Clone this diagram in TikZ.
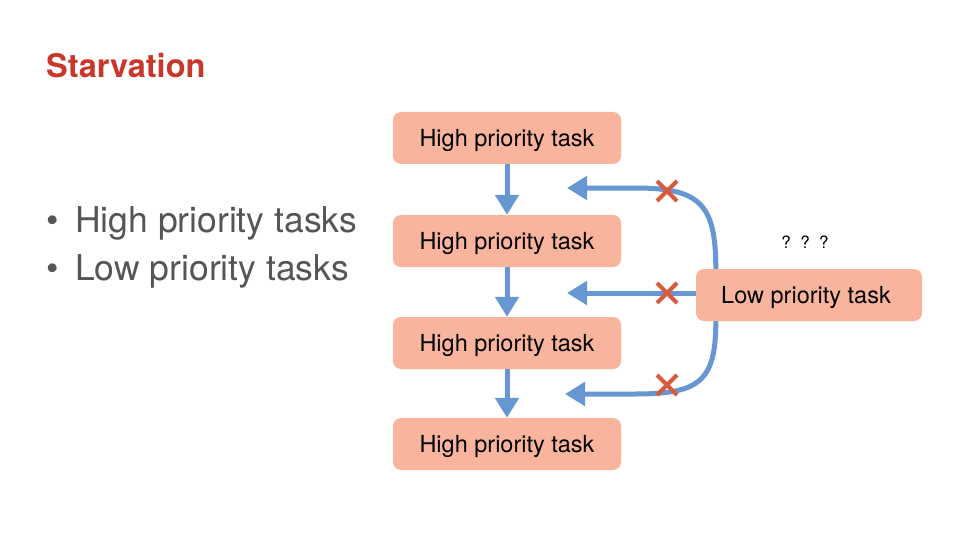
\documentclass[tikz,border=0pt]{standalone}
\usepackage{fontspec}
\setmainfont{TeX Gyre Heros}
\usetikzlibrary{arrows.meta}
\definecolor{boxfill}{RGB}{248,180,156}
\definecolor{arrowblue}{RGB}{102,151,210}
\definecolor{crossred}{RGB}{214,90,60}
\definecolor{titlered}{RGB}{201,54,42}
\definecolor{bulletgray}{RGB}{85,85,85}
\tikzset{
  taskbox/.style={fill=boxfill, rounded corners=8pt, minimum height=52pt, inner sep=0pt,
    text height=17pt, text depth=0pt,
    font=\fontsize{23.5}{28}\selectfont, text=black},
  flow/.style={draw=arrowblue, line width=5pt, -{Triangle[width=23pt,length=20pt]}},
  crossmark/.style={draw=crossred, line width=4pt},
  bullettext/.style={anchor=base west, text=bulletgray, font=\fontsize{35.5}{40}\selectfont, inner sep=0pt},
}
\begin{document}
\begin{tikzpicture}[x=1pt,y=-1pt]
\useasboundingbox[fill=white] (0,0) rectangle (960,540);
% title
\node[anchor=base west, inner sep=0pt, text=titlered, font=\fontsize{32.5}{36}\selectfont\bfseries] (title) at (46,78) {Starvation};
% bullets
\node[bullettext] (b1) at (46,232) {•};
\node[bullettext] (t1) at (75,232) {High priority tasks};
\node[bullettext] (b2) at (46,280) {•};
\node[bullettext] (t2) at (75,280) {Low priority tasks};
% boxes
\node[taskbox, minimum width=228pt] (h1) at (507,138) {High priority task};
\node[taskbox, minimum width=228pt] (h2) at (507,241) {High priority task};
\node[taskbox, minimum width=228pt] (h3) at (507,343) {High priority task};
\node[taskbox, minimum width=228pt] (h4) at (507,444) {High priority task};
\node[taskbox, minimum width=226pt] (low) at (809,295) {\hspace*{-6pt}Low priority task};
\node[font=\fontsize{17}{20}\selectfont, inner sep=0pt] (q) at (805,242) {?~~?~~?};
% vertical arrows
\draw[flow] (h1.south) -- (h2.north);
\draw[flow] (h2.south) -- (h3.north);
\draw[flow] (h3.south) -- (h4.north);
% targets
\coordinate (tA) at (567,188);
\coordinate (tB) at (567,293);
\coordinate (tC) at (565,394);
\coordinate (sA) at ([xshift=20pt]low.north west);
\coordinate (sC) at ([xshift=20pt]low.south west);
\draw[flow] (sA) .. controls ([yshift=65pt]sA) and (700,188) .. (635,188) -- (tA);
\draw[flow] (low.west |- tB) -- (tB);
\draw[flow] (sC) .. controls ([yshift=-60pt]sC) and (700,394) .. (635,394) -- (tC);
% crosses
\foreach \n/\y in {x1/191, x2/293, x3/385}{
  \coordinate (\n) at (667,\y);
  \draw[crossmark] ([shift={(-10pt,-10pt)}]\n) -- ([shift={(10pt,10pt)}]\n);
  \draw[crossmark] ([shift={(-10pt,10pt)}]\n) -- ([shift={(10pt,-10pt)}]\n);
}
\end{tikzpicture}
\end{document}
